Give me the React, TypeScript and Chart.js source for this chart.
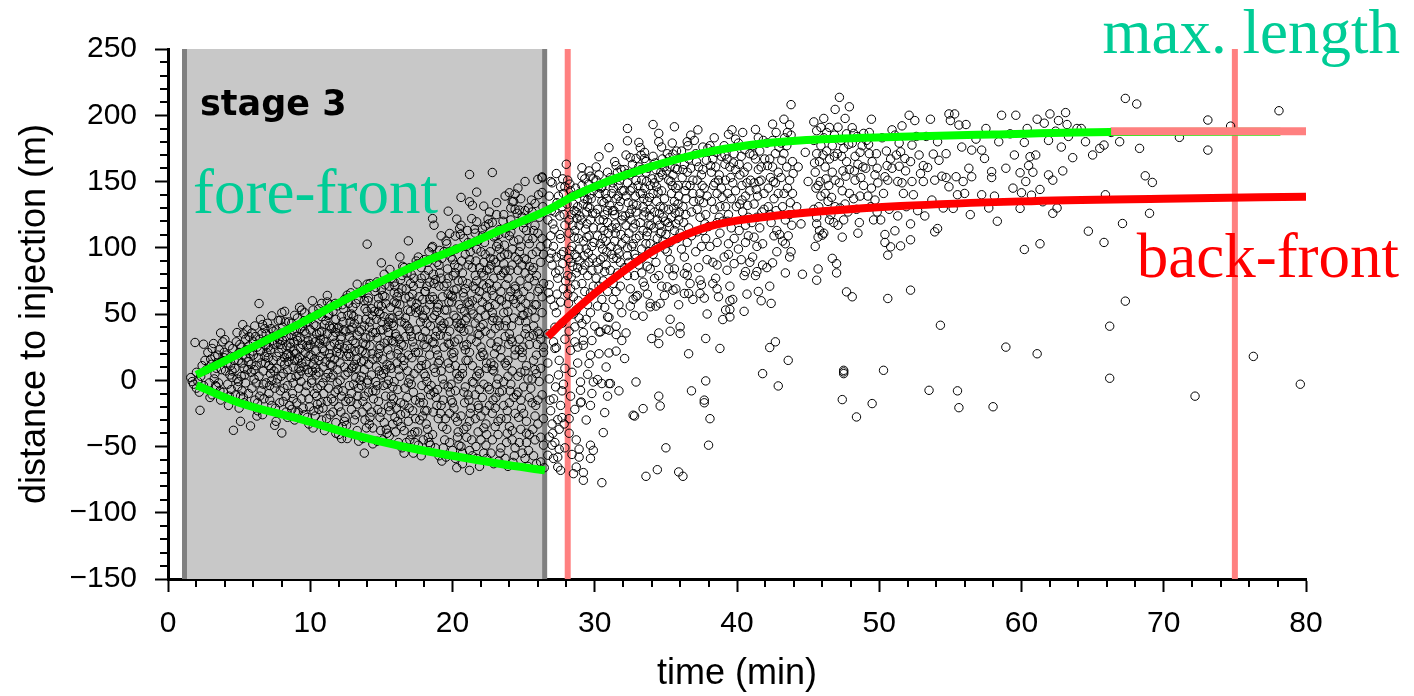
import React, { useEffect, useRef } from "react";
import { Chart, registerables } from "chart.js";

Chart.register(...registerables);

// ---------- data (time in min, distance in m) ----------
const stagePoints: [number, number][] = [
  [1.6,2],[1.8,-3],[2.0,6],[2.1,-1],[2.3,3],[2.2,-9],[1.9,28.5],[2.5,27.2],[2.25,-22.7],[2.4,11],[2.0,-6],[2.6,15],[2.5,-4],[1.7,-1],
  [2.7,8],[2.9,-2],[3.0,16],[3.1,-11],[3.2,27.7],[3.3,5],[2.8,21],[3.4,-5],[3.05,12],[3.25,1],[3.5,19],[2.95,-13],[3.4,9],[3.1,24],
  [3.7,35.7],[4.0,30.7],[3.6,23],[3.8,14],[4.05,7],[4.2,-3],[4.4,11],[3.9,-9],[4.1,19],[4.3,26],[4.5,2],[3.7,-15],[4.25,-19],[4.45,-7],[4.6,-37.8],[3.95,17],[4.35,4],
  [5.25,42],[5.1,-31],[4.8,29],[5.0,21],[5.2,13],[5.4,4],[4.9,-5],[5.3,-13],[5.15,25],[5.5,17],[4.7,9],[5.0,-21],[5.45,31],[5.2,-8],[4.85,1],[5.55,23],[5.3,35],[4.95,15],[5.35,9],
  [5.9,35.7],[6.6,35.2],[5.8,-34.5],[6.4,57.9],[5.7,26],[6.0,19],[6.2,11],[6.4,3],[5.9,-6],[6.1,-15],[6.3,-23],[6.0,29],[6.5,22],[5.65,14],[6.2,-2],[6.45,31],[5.85,6],[6.1,41],[6.3,-17],[6.55,13],[5.75,20],[6.25,25],[6.05,1],
  [7.3,48.6],[7.5,-34],[6.8,39],[7.0,31],[7.2,23],[7.4,15],[6.7,7],[6.9,-2],[7.1,-10],[7.3,-19],[6.65,-26],[7.0,43],[7.45,27],[6.8,18],[7.2,5],[7.5,-6],[6.9,35],[7.1,11],[7.3,0],[6.75,-14],[7.4,37],[7.05,17],[6.85,26],[7.25,9],[7.15,-4],
  [7.9,45.3],[8.5,44],[8.0,-39.8],[7.6,38],[7.8,31],[8.0,24],[8.2,17],[8.4,8],[7.7,1],[7.9,-8],[8.1,-16],[8.3,-24],[7.6,-31],[8.05,40],[8.3,33],[7.8,21],[8.2,12],[8.4,-4],[7.7,28],[8.1,5],[8.45,20],[7.95,14],[8.3,-12],[8.0,51],[7.65,9],[8.15,36],[8.35,26],[7.85,-17],
  [8.7,43],[8.9,37],[9.1,30],[9.3,24],[8.6,18],[8.8,10],[9.0,3],[9.2,-6],[9.4,-14],[8.7,-22],[8.9,-30],[9.1,47],[9.3,39],[8.6,28],[9.0,20],[9.4,13],[8.8,-2],[9.2,4],[9.5,-21],[8.9,49],[9.3,32],[9.1,16],[8.75,-10],[9.45,27],[8.65,34],[9.05,-17],[9.25,55],[8.85,22],[9.35,7],
  [9.6,51],[9.8,44],[10.0,38],[10.2,31],[10.4,22],[9.7,14],[9.9,6],[10.1,-2],[10.3,-10],[10.5,-18],[9.6,-26],[9.9,-33],[10.2,53],[10.4,41],[9.7,35],[10.0,27],[10.3,16],[9.8,8],[10.1,0],[10.5,-6],[9.65,21],[10.4,4],[9.9,-14],[10.2,12],[10.0,47],[10.35,29],[9.75,-4],[10.15,60],[9.85,25],[10.45,35],[9.55,10],[10.25,-23],
  [11.2,59.1],[10.6,54],[10.8,48],[11.0,42],[11.2,35],[11.4,26],[10.7,18],[10.9,10],[11.1,2],[11.3,-6],[11.5,-14],[10.6,-22],[10.8,-30],[11.0,-38],[11.3,50],[11.5,39],[10.7,31],[11.0,22],[11.4,12],[10.9,-2],[11.2,-16],[10.6,6],[11.1,45],[11.4,-26],[10.8,37],[11.05,14],[10.65,28],[11.35,20],[10.95,-10],[11.25,5],[10.75,-17],[11.45,57],
  [11.9,56.1],[12.4,61],[11.6,52],[11.8,46],[12.0,40],[12.2,33],[12.4,24],[11.7,16],[11.9,8],[12.1,0],[12.3,-8],[12.5,-16],[11.6,-24],[11.8,-32],[12.0,-41],[12.2,48],[12.5,37],[11.7,28],[12.1,20],[12.4,10],[11.9,-2],[12.2,-12],[11.6,4],[12.3,44],[12.0,-20],[11.8,36],[12.45,-28],[12.1,13],[11.65,40],[12.35,54],[11.95,24],[12.25,-35],[11.75,-9],[12.15,31],
  [12.6,64.2],[13.3,72.5],[12.7,58],[12.9,50],[13.1,43],[13.3,34],[12.6,26],[12.8,18],[13.0,10],[13.2,2],[13.4,-6],[12.7,-14],[12.9,-22],[13.1,-30],[13.3,-38],[12.6,-44],[13.0,55],[13.4,46],[12.8,38],[13.2,28],[12.7,20],[13.1,12],[13.5,0],[12.9,-10],[13.3,-18],[13.0,30],[12.65,6],[13.4,61],[13.2,-26],[12.8,44],[13.05,-3],[12.75,33],[13.45,23],[12.85,66],[13.25,16],[12.55,-34],
  [14.0,102.7],[14.0,72.5],[13.8,-55],[13.6,66],[13.8,60],[14.0,52],[14.2,44],[14.4,36],[13.7,28],[13.9,20],[14.1,12],[14.3,4],[13.6,-4],[13.8,-12],[14.0,-20],[14.2,-28],[14.4,-36],[13.7,-44],[14.1,62],[14.3,54],[13.9,46],[13.6,38],[14.2,26],[14.4,16],[13.8,8],[14.0,-2],[13.7,-16],[14.3,-24],[13.9,32],[14.1,70],[14.4,-8],[13.6,14],[14.15,40],[13.85,-30],[14.35,49],[13.65,22],[14.05,0],
  [14.7,74.2],[15.0,68.5],[15.0,88.6],[14.6,70],[14.8,62],[15.0,56],[15.2,48],[15.4,40],[14.7,32],[14.9,24],[15.1,16],[15.3,8],[15.5,0],[14.6,-8],[14.8,-16],[15.0,-24],[15.2,-32],[15.4,-40],[14.7,-46],[15.1,64],[15.3,58],[14.9,50],[15.5,44],[14.6,36],[15.2,28],[14.8,20],[15.4,12],[15.0,4],[14.7,-4],[15.3,-12],[14.9,-28],[15.1,38],[15.5,-20],[14.8,52],[15.25,72],[14.65,10],[15.15,-4],[15.45,30],[14.95,-38],
  [15.6,83.6],[16.3,93.1],[15.7,77],[15.95,71],[16.1,63],[16.3,57],[15.6,47],[15.85,41],[16.05,33],[16.2,23],[16.4,17],[15.7,9],[15.9,-1],[16.15,-7],[16.35,-17],[15.6,-23],[15.8,-33],[16.0,-39],[16.2,-47],[16.45,-51],[15.9,59],[16.25,49],[15.75,43],[16.0,35],[16.4,27],[15.65,19],[16.1,13],[16.3,3],[15.8,-5],[16.05,-21],[16.4,-35],[15.9,74],[16.2,66],[15.7,-12],[16.45,79],[15.55,-42],[16.15,52],[15.85,29],[16.35,-26],
  [16.9,105.2],[16.6,85],[16.8,81],[17.05,73],[17.2,65],[17.4,55],[16.7,47],[16.95,39],[17.1,33],[17.3,25],[16.6,15],[16.85,7],[17.0,1],[17.25,-9],[17.4,-15],[16.7,-25],[16.9,-31],[17.15,-41],[17.35,-47],[16.6,-55],[17.0,85],[17.3,77],[16.75,69],[17.1,59],[17.45,51],[16.65,43],[17.0,37],[17.2,29],[16.9,19],[16.55,11],[17.3,5],[17.1,-3],[16.8,-13],[17.4,-29],[17.0,-45],[16.7,62],[17.45,90],[16.95,-21],[17.25,-55],[16.6,-38],
  [17.6,93],[17.8,85],[18.05,79],[18.2,71],[18.4,61],[17.7,53],[17.95,47],[18.1,37],[18.3,31],[17.6,21],[17.85,15],[18.0,5],[18.2,-1],[18.45,-11],[17.7,-17],[17.9,-27],[18.15,-33],[18.3,-43],[17.6,-49],[17.8,-57],[18.0,91],[18.3,83],[17.7,73],[18.1,67],[18.4,57],[17.9,49],[18.2,43],[17.65,33],[18.0,27],[18.4,19],[17.8,11],[18.1,3],[18.3,-7],[17.75,-13],[18.05,-23],[18.25,-37],[18.45,-49],[17.9,61],[18.35,97],[17.55,-39],[18.15,12],[17.95,-45],
  [18.6,122],[18.7,117],[18.6,101],[18.8,93],[19.05,87],[19.2,77],[19.4,71],[18.7,61],[18.95,55],[19.1,45],[19.3,39],[18.6,29],[18.85,23],[19.0,13],[19.2,7],[19.4,-3],[18.7,-9],[18.9,-19],[19.15,-25],[19.3,-35],[18.6,-41],[18.8,-51],[19.05,-57],[19.25,-61],[19.4,97],[18.9,89],[19.1,81],[18.7,73],[19.3,63],[19.0,57],[18.6,47],[19.2,41],[18.8,33],[19.4,25],[19.1,15],[18.7,9],[19.3,1],[18.95,-7],[19.0,-29],[19.45,-45],[18.8,76],[19.2,109],[18.65,-24],[19.35,-15],[18.9,52],
  [19.7,127.6],[20.3,121.6],[20.5,114.6],[20.2,108.8],[19.8,110.8],[20.3,-66],[19.6,103],[19.85,97],[20.0,91],[20.2,81],[20.4,75],[19.7,65],[19.95,59],[20.1,49],[20.3,43],[19.6,33],[19.8,27],[20.05,17],[20.2,11],[20.4,1],[19.7,-5],[19.9,-15],[20.1,-21],[20.35,-31],[19.6,-37],[19.8,-47],[20.0,-53],[20.2,-59],[20.45,-49],[19.9,93],[20.15,87],[19.7,77],[20.3,69],[20.0,63],[19.6,53],[20.25,47],[19.8,37],[20.4,31],[20.1,21],[19.7,13],[20.3,5],[19.9,-3],[20.0,-17],[20.4,-39],[19.8,-25],[20.45,57],[19.55,-58],[20.2,-8],[19.75,44],
  [20.6,138],[21.2,134.7],[21.4,132],[21.2,155.3],[21.2,-68],[20.6,117],[20.8,107],[21.0,101],[21.2,91],[21.4,85],[20.7,75],[20.9,69],[21.1,59],[21.3,53],[20.6,43],[20.8,37],[21.0,27],[21.2,21],[21.4,11],[20.7,5],[20.9,-5],[21.1,-11],[21.3,-21],[20.6,-27],[20.8,-37],[21.0,-43],[21.2,-53],[21.4,-57],[20.7,-63],[21.05,113],[21.3,103],[20.9,95],[21.1,87],[20.7,81],[21.45,71],[20.8,63],[21.2,57],[21.0,47],[20.6,39],[21.3,31],[20.9,23],[21.1,15],[20.7,9],[21.4,-1],[20.8,-9],[21.25,-25],[21.0,-35],[20.6,-50],[21.35,122],[20.85,52],[21.15,-15],
  [21.7,142],[22.2,131.4],[21.7,119.6],[22.5,121.6],[22.3,116.3],[21.6,111],[21.8,105],[22.0,97],[22.2,89],[22.4,83],[21.7,75],[21.9,67],[22.1,59],[22.3,49],[21.6,43],[21.8,35],[22.0,25],[22.2,19],[22.4,9],[21.7,3],[21.9,-7],[22.1,-13],[22.3,-23],[21.6,-29],[21.8,-39],[22.0,-45],[22.2,-55],[22.4,-59],[21.9,-65],[22.1,109],[21.7,99],[22.3,95],[21.9,85],[22.2,79],[21.6,69],[22.4,63],[22.0,53],[21.8,47],[22.3,37],[21.7,29],[22.1,21],[22.4,13],[21.9,5],[22.2,-3],[21.6,-11],[22.0,-27],[22.4,-41],[21.8,-19],[22.15,72],[21.65,-50],[22.35,-33],[21.95,40],
  [22.8,156.8],[22.9,108.2],[23.3,113.7],[22.6,127],[22.8,119],[23.0,109],[23.2,103],[23.4,93],[22.7,87],[22.9,77],[23.1,71],[23.3,61],[22.6,55],[22.8,45],[23.0,39],[23.2,29],[23.4,23],[22.7,13],[22.9,7],[23.1,-3],[23.3,-9],[22.6,-19],[22.8,-25],[23.0,-35],[23.2,-41],[23.4,-51],[22.7,-55],[22.9,-63],[23.1,125],[23.3,99],[22.9,91],[23.2,83],[22.6,73],[23.4,67],[23.0,57],[22.8,51],[23.3,41],[22.7,35],[23.1,25],[23.4,17],[22.9,11],[23.2,1],[22.6,-7],[23.0,-21],[23.4,-29],[22.8,-45],[23.1,134],[23.25,-61],[22.65,97],[23.05,-13],[22.85,64],
  [24.0,141.5],[24.3,135],[24.1,130],[24.4,140.5],[24.2,134.7],[23.7,139],[24.4,129],[23.6,125],[23.8,115],[24.0,109],[24.2,99],[24.4,93],[23.7,83],[23.9,77],[24.1,67],[24.3,61],[23.6,51],[23.8,45],[24.0,35],[24.2,29],[24.4,19],[23.7,13],[23.9,3],[24.1,-3],[24.3,-13],[23.6,-19],[23.8,-29],[24.0,-35],[24.2,-45],[24.4,-51],[23.7,-59],[23.9,-65],[24.1,121],[23.7,111],[24.3,105],[23.9,95],[24.2,87],[23.6,81],[24.4,71],[24.0,63],[23.8,57],[24.3,47],[23.7,41],[24.1,31],[24.4,23],[23.9,15],[24.2,7],[23.6,-1],[24.0,-17],[24.4,-25],[23.8,-47],[24.25,-62],[23.65,102],[24.05,-8],[23.85,-40],
  [24.7,128.4],[24.9,123.3],[24.6,145],[24.8,137],[25.0,119],[25.2,113],[25.4,103],[24.7,97],[24.9,87],[25.1,81],[25.3,71],[24.6,65],[24.8,55],[25.0,49],[25.2,39],[25.4,33],[24.7,23],[24.9,17],[25.1,7],[25.3,1],[24.6,-9],[24.8,-15],[25.0,-25],[25.2,-31],[25.4,-41],[24.7,-47],[24.9,-55],[25.1,-59],[25.3,-65],[25.0,115],[25.3,107],[24.8,101],[25.2,91],[24.6,83],[25.4,77],[25.0,67],[24.8,61],[25.3,51],[24.7,45],[25.1,35],[25.4,27],[24.9,21],[25.2,11],[24.6,3],[25.0,-5],[25.4,-13],[24.8,-37],[25.2,-47],[25.1,150],[25.35,130],[24.65,-28],[25.15,58],
  [25.8,133.4],[26.3,141.7],[26.0,151.6],[26.3,152.8],[26.3,153.5],[26.2,-61.7],[25.6,127],[25.8,117],[26.0,111],[26.2,101],[26.4,95],[25.7,85],[25.9,79],[26.1,69],[26.3,63],[25.6,53],[25.8,47],[26.0,37],[26.2,31],[26.4,21],[25.7,15],[25.9,5],[26.1,-1],[26.3,-11],[25.6,-17],[25.8,-27],[26.0,-33],[26.2,-43],[26.4,-49],[25.7,-57],[25.9,-63],[26.1,123],[25.7,113],[26.3,107],[25.9,97],[26.2,89],[25.6,83],[26.4,73],[26.0,67],[25.8,57],[26.3,51],[25.7,41],[26.1,35],[26.4,25],[25.9,19],[26.2,9],[25.6,1],[26.0,-15],[26.4,-29],[25.8,-45],[26.35,131],[25.65,-37],[26.05,140],[26.45,-66],
];

const stageDensePoints: [number, number][] = [
  [3.3,18],[3.55,-2],[3.75,8],[3.85,29],[3.45,13],[3.65,-8],[3.95,21],[3.35,-4],
  [4.15,13],[4.55,24],[4.75,-11],[4.65,15],[4.3,-12],[4.85,36],[4.5,7],[4.95,-1],
  [5.05,27],[5.6,8],[5.25,19],[5.45,-2],[5.7,33],[5.35,-17],[5.85,12],[5.15,3],[5.65,-10],[5.55,38],[5.95,22],[5.1,-12],
  [6.15,33],[6.35,17],[6.55,-8],[6.75,29],[6.05,8],[6.45,-12],[6.65,42],[6.85,13],[6.25,-27],[6.95,21],[6.7,-3],[6.5,46],
  [7.05,25],[7.25,39],[7.45,7],[7.65,18],[7.85,35],[7.15,-15],[7.35,30],[7.55,-21],[7.75,45],[7.95,3],[7.6,-2],[7.9,27],
  [8.05,30],[8.25,44],[8.45,14],[8.65,2],[8.85,29],[8.15,-6],[8.35,19],[8.55,-19],[8.75,38],[8.95,-24],[8.2,52],[8.6,25],[8.8,-14],[8.4,-28],[8.9,15],
  [9.05,33],[9.25,17],[9.45,41],[9.65,-9],[9.85,30],[9.15,-24],[9.35,-1],[9.55,45],[9.75,26],[9.95,-20],[9.2,9],[9.6,37],[9.8,-28],[9.4,53],[9.9,18],
  [10.05,19],[10.25,42],[10.45,-12],[10.65,36],[10.85,24],[10.15,7],[10.35,-27],[10.55,50],[10.75,-4],[10.95,31],[10.2,-36],[10.6,15],[10.8,58],[10.4,9],[10.9,-21],
  [11.05,29],[11.25,49],[11.45,2],[11.65,-16],[11.85,21],[11.15,-29],[11.35,41],[11.55,11],[11.75,58],[11.95,-7],[11.2,64],[11.6,33],[11.8,-40],[11.4,17],[11.9,39],
  [12.05,27],[12.25,57],[12.45,4],[12.65,49],[12.85,-16],[12.15,-24],[12.35,38],[12.55,18],[12.75,-4],[12.95,40],[12.2,-44],[12.6,62],[12.8,24],[12.4,-31],[12.9,9],
  [13.05,48],[13.25,9],[13.45,37],[13.65,-24],[13.85,54],[13.15,22],[13.35,-12],[13.55,66],[13.75,15],[13.95,-36],[13.2,58],[13.6,3],[13.8,41],[13.4,-46],[13.9,27],
  [14.05,60],[14.25,33],[14.45,-14],[14.65,46],[14.85,7],[14.15,-33],[14.35,20],[14.55,67],[14.75,-22],[14.95,38],[14.2,73],[14.6,-1],[14.8,57],[14.4,-48],[14.9,26],[14.5,52],[14.1,-9],[14.7,17],
  [15.05,44],[15.25,63],[15.45,23],[15.65,55],[15.85,-14],[15.15,5],[15.35,-37],[15.55,71],[15.75,30],[15.95,-28],[15.2,80],[15.6,11],[15.8,47],[15.4,-3],[15.9,66],[15.5,36],[15.1,-45],[15.7,-18],
  [16.05,58],[16.25,31],[16.45,69],[16.65,-6],[16.85,53],[16.15,-31],[16.35,76],[16.55,26],[16.75,-47],[16.95,63],[16.2,8],[16.6,-18],[16.8,41],[16.4,44],[16.9,-2],[16.5,86],[16.1,20],[16.7,33],
  [17.05,52],[17.25,71],[17.45,38],[17.65,63],[17.85,-4],[17.15,17],[17.35,-39],[17.55,88],[17.75,44],[17.95,-17],[17.2,-23],[17.6,9],[17.8,77],[17.4,21],[17.9,32],[17.5,58],[17.1,80],[17.7,-30],
  [18.05,67],[18.25,89],[18.45,41],[18.65,80],[18.85,-13],[18.15,25],[18.35,-47],[18.55,100],[18.75,49],[18.95,19],[18.2,-23],[18.6,63],[18.8,6],[18.4,74],[18.9,37],[18.5,-4],[18.1,53],[18.7,28],
  [19.05,71],[19.25,92],[19.45,53],[19.65,84],[19.85,-9],[19.15,34],[19.35,-51],[19.55,105],[19.75,59],[19.95,20],[19.2,-19],[19.6,73],[19.8,9],[19.4,43],[19.9,64],[19.5,-29],[19.1,98],[19.7,28],
  [20.05,79],[20.25,99],[20.45,40],[20.65,90],[20.85,-17],[20.15,29],[20.35,-43],[20.55,110],[20.75,66],[20.95,15],[20.2,-28],[20.6,54],[20.8,26],[20.4,85],[20.9,45],[20.5,3],[20.1,68],[20.7,-55],
  [21.05,73],[21.25,97],[21.45,50],[21.65,90],[21.85,-21],[21.15,38],[21.35,-45],[21.55,114],[21.75,62],[21.95,18],[21.2,-31],[21.6,79],[21.8,7],[21.4,60],[21.9,34],[21.5,-2],[21.1,104],[21.7,-59],
  [22.05,81],[22.25,104],[22.45,56],[22.65,92],[22.85,-15],[22.15,42],[22.35,-49],[22.55,118],[22.75,68],[22.95,20],[22.2,-36],[22.6,84],[22.8,8],[22.4,70],[22.9,47],[22.5,-5],[22.1,114],[22.7,28],
  [23.05,89],[23.25,110],[23.45,60],[23.65,95],[23.85,-23],[23.15,45],[23.35,-55],[23.55,120],[23.75,72],[23.95,27],[23.2,-31],[23.6,88],[23.8,11],[23.4,79],[23.9,52],[23.5,-8],[23.1,101],[23.7,33],
  [24.05,83],[24.25,117],[24.45,58],[24.65,106],[24.85,-21],[24.15,41],[24.35,-57],[24.55,126],[24.75,75],[24.95,25],[24.2,-38],[24.6,91],[24.8,6],[24.4,69],[24.9,49],[24.5,-11],[24.1,112],[24.7,31],
  [25.05,92],[25.25,121],[25.45,63],[25.65,107],[25.85,-19],[25.15,44],[25.35,-53],[25.55,136],[25.75,75],[25.95,27],[25.2,-40],[25.6,95],[25.8,8],[25.4,86],[25.9,57],[25.5,-6],[25.1,128],[25.7,34],
];

const risePoints: [number, number][] = [
  [27.0,149],[27.6,146],[27.9,146],[28.0,163],[27.3,24.7],[27.7,-8],[27.1,-14],[27.4,-29.7],[27.7,-28.2],[26.8,-42.8],[27.2,-47],[26.7,-56.6],[27.1,-59],[27.4,-58],[27.4,-65.5],[28.2,-29],[28.2,-40],[28.3,22.6],[27.2,24],
  [26.7,121],[26.9,109],[27.1,101],[27.3,93],[27.5,83],[27.7,131],[27.9,117],[26.8,139],[27.2,127],[27.6,107],[27.8,97],[27.0,87],[27.4,77],[27.8,69],[26.9,61],[27.3,51],[27.7,43],[26.7,35],[27.1,29],[27.5,15],[27.9,9],[26.8,1],[27.25,-5],[27.6,-19],[26.9,-23],[27.5,-37],[27.9,-51],[27.0,-33],[27.8,141],[27.3,156],[26.8,72],[27.6,59],[27.2,40],[27.9,31],[26.7,13],[27.45,4],[27.8,-3],[27.0,-49],[27.6,-68],[26.9,150],[27.15,114],[27.55,124],[27.35,134],[27.75,88],[26.95,96],
  [28.5,-70.5],[28.7,-65.5],[28.9,-58],[28.7,-45],[28.9,-52],[28.8,25],[29.0,-1.3],[29.0,-7.6],[29.0,-17],[29.2,26.4],[29.2,-75.5],[29.2,-69.7],[29.1,160.4],[28.6,40.3],[29.1,42.8],[29.2,30.2],
  [28.1,151],[28.3,143],[28.5,133],[28.7,127],[28.9,117],[28.2,111],[28.4,101],[28.6,95],[28.8,85],[28.1,79],[28.3,69],[28.5,63],[28.7,53],[28.9,47],[28.2,37],[28.6,29],[28.8,13],[28.4,6],[28.3,-12],[28.6,-22],[28.4,139],[28.8,131],[28.2,121],[28.6,113],[28.9,99],[28.3,89],[28.7,81],[28.1,65],[28.5,50],[28.9,141],[28.4,-56],[28.55,108],[28.75,122],[28.15,92],[28.95,90],[28.35,125],
  [29.6,12.6],[29.7,19],[29.5,4.5],[29.7,-19],[29.7,-59],[29.7,-49],[29.9,-52.9],[30.0,40.8],[29.6,158],[29.7,154],[29.1,154],[29.9,-1.3],[29.05,-16.4],
  [29.1,147],[29.3,137],[29.5,131],[29.7,121],[29.9,115],[29.2,105],[29.4,99],[29.6,89],[29.8,83],[29.1,73],[29.3,67],[29.5,57],[29.7,51],[29.9,143],[29.2,133],[29.4,127],[29.6,109],[29.8,101],[29.3,87],[29.5,79],[29.9,71],[29.4,46],[29.8,30],[29.2,36],[29.4,-30],[29.8,-10],[29.45,118],[29.65,140],[29.25,94],[29.85,126],[29.55,148],
  [30.4,36.5],[30.8,38.5],[30.3,168.7],[30.5,-77.3],[30.6,-39.5],[30.7,-24.4],[30.9,-12],[30.5,-2.5],[30.2,0.5],[31.0,-2.5],[31.0,20.6],[31.0,47.4],[31.0,175.5],[30.9,47.8],[30.3,36.5],[31.0,37.8],
  [30.1,151],[30.3,141],[30.5,135],[30.7,125],[30.9,119],[30.2,109],[30.4,103],[30.6,93],[30.8,87],[30.1,77],[30.3,71],[30.5,61],[30.7,55],[30.9,157],[30.2,129],[30.6,121],[30.8,105],[30.4,91],[30.1,161],[30.6,75],[30.9,67],[30.3,20],[30.8,10],[30.2,56],[30.45,145],[30.65,113],[30.25,84],[30.85,137],[30.55,99],
  [31.5,34.5],[31.5,40.8],[31.5,22],[31.7,-8],[31.1,-2.5],
  [31.1,153],[31.3,145],[31.5,137],[31.7,131],[31.9,121],[31.2,115],[31.4,105],[31.6,99],[31.8,89],[31.1,83],[31.3,73],[31.5,67],[31.7,57],[31.9,51],[31.2,141],[31.6,157],[31.8,135],[31.4,125],[31.2,95],[31.6,81],[31.9,103],[31.3,61],[31.8,71],[31.4,165],[31.9,30],[31.45,111],[31.65,147],[31.25,128],[31.85,159],[31.55,92],
  [32.1,16.4],[32.2,35.7],[32.3,190],[32.3,180.7],[32.2,170],[32.9,167.4],[32.8,49],[32.9,-1.3],[32.8,-27],[32.9,63],[32.7,-26.4],
  [32.1,159],[32.3,149],[32.5,143],[32.7,133],[32.9,127],[32.2,117],[32.4,111],[32.6,101],[32.8,95],[32.1,85],[32.3,79],[32.5,69],[32.7,61],[32.9,151],[32.2,139],[32.6,129],[32.4,89],[32.8,79],[32.5,56],[32.7,115],[32.3,100],[32.9,107],[32.45,155],[32.65,163],[32.15,124],[32.85,139],
  [33.1,179.5],[33.2,175.5],[33.5,167.4],[33.4,48.3],[33.9,55.4],[33.4,-21.4],[33.6,-72.5],[34.0,31.5],[33.9,58],[33.4,74],
  [33.1,161],[33.3,151],[33.5,145],[33.7,135],[33.9,129],[33.2,119],[33.4,113],[33.6,103],[33.8,97],[33.1,87],[33.3,81],[33.5,71],[33.7,65],[33.9,147],[33.2,141],[33.6,157],[33.8,117],[33.4,131],[33.9,84],[33.3,99],[33.7,86],[33.6,165],[33.0,64],[33.45,124],[33.65,109],[33.25,170],[33.85,138],
  [34.1,193],[34.5,186.3],[34.5,27.7],[34.5,35.7],[34.5,-12],[34.6,-19.4],[34.4,-67.5],[35.0,-51],[34.6,58],[34.2,76.8],
  [34.1,169],[34.3,159],[34.5,153],[34.7,143],[34.9,137],[34.2,127],[34.4,121],[34.6,111],[34.8,105],[34.1,95],[34.3,89],[34.5,79],[34.7,71],[34.9,161],[34.2,149],[34.6,131],[34.8,123],[34.4,107],[34.9,64],[34.3,56],[34.7,176],[34.1,141],[34.55,117],[34.75,155],[34.35,135],[34.95,99],
  [35.3,37],[35.5,170.7],[35.6,191.3],[35.9,-69.2],[36.2,-72.5],[35.1,70.5],[35.5,68],[35.2,84],[35.6,84],
  [35.1,171],[35.3,161],[35.5,155],[35.7,145],[35.9,139],[35.2,129],[35.4,123],[35.6,113],[35.8,107],[35.1,97],[35.3,91],[35.5,79],[35.7,69],[35.9,57],[35.2,151],[35.6,135],[35.8,159],[35.4,141],[35.0,110],[35.9,121],[35.3,46],[35.45,179],[35.65,126],[35.25,116],[35.85,147],
];

const riseDensePoints: [number, number][] = [
  [26.65,103],[26.85,92],[27.05,118],[27.25,81],[27.45,139],[27.65,95],[27.85,125],[26.75,66],[27.15,56],[27.55,110],[27.95,75],[26.95,128],[27.35,65],[27.75,152],[27.05,-40],[27.5,-52],[26.85,-15],[27.85,-33],
  [28.05,133],[28.25,98],[28.45,117],[28.65,145],[28.85,107],[28.15,58],[28.35,78],[28.55,128],[28.75,93],[28.95,124],[28.25,148],[28.65,72],[28.85,60],[28.45,86],
  [29.05,121],[29.25,142],[29.45,108],[29.65,130],[29.85,92],[29.15,83],[29.35,114],[29.55,96],[29.75,137],[29.95,104],[29.3,152],[29.7,66],[29.5,136],[29.9,152],
  [30.05,126],[30.25,146],[30.45,115],[30.65,134],[30.85,97],[30.15,89],[30.35,121],[30.55,107],[30.75,141],[30.95,111],[30.3,155],[30.7,82],[30.5,146],[30.9,128],
  [31.05,132],[31.25,149],[31.45,118],[31.65,139],[31.85,110],[31.15,101],[31.35,128],[31.55,115],[31.75,151],[31.95,124],[31.3,92],[31.7,96],[31.5,162],[31.9,143],
  [32.05,143],[32.25,156],[32.45,126],[32.65,145],[32.85,118],[32.15,107],[32.35,134],[32.55,121],[32.75,157],[32.95,132],[32.3,94],[32.7,103],[32.5,168],[32.9,92],
  [33.05,147],[33.25,159],[33.45,137],[33.65,150],[33.85,124],[33.15,109],[33.35,141],[33.55,127],[33.75,160],[33.95,117],[33.3,92],[33.7,112],[33.5,172],[33.9,103],
  [34.05,152],[34.25,164],[34.45,142],[34.65,157],[34.85,130],[34.15,115],[34.35,146],[34.55,126],[34.75,167],[34.95,120],[34.3,100],[34.7,112],[34.5,180],
  [35.05,158],[35.25,168],[35.45,147],[35.65,160],[35.85,133],[35.15,119],[35.35,150],[35.55,130],[35.75,173],[35.95,127],[35.3,104],[35.7,118],
];

const plateauPoints: [number, number][] = [
  [36.0,40.3],[36.0,35.3],[36.5,180],[36.3,80.6],[36.5,79.3],[36.3,65.5],[36.6,65.5],
  [36.1,173],[36.3,163],[36.5,157],[36.7,147],[36.9,141],[36.2,131],[36.4,125],[36.6,115],[36.8,109],[36.1,99],[36.3,93],[36.5,85],[36.7,73],[36.9,61],[36.2,159],[36.6,167],[36.8,127],[36.4,137],[36.9,151],[36.0,111],[36.6,20],[36.8,-8],[36.45,147],[36.75,185],[36.25,119],
  [37.6,176],[37.8,31.5],[37.8,-0.5],[37.7,-15],[37.7,-17],[37.4,75.5],[37.4,65.5],[38.0,-49],
  [37.1,171],[37.3,161],[37.5,155],[37.7,145],[37.9,139],[37.2,129],[37.4,123],[37.6,113],[37.8,107],[37.1,97],[37.3,85],[37.5,72],[37.7,62],[37.9,50],[37.2,151],[37.6,159],[37.4,141],[37.8,125],[37.0,181],[37.5,101],[37.9,91],[37.25,189],[37.65,134],[37.85,166],
  [38.1,-29],[38.8,24],[39.0,45.8],[38.6,87],[38.6,69],[38.3,73],
  [38.1,177],[38.3,167],[38.5,161],[38.7,151],[38.9,145],[38.2,135],[38.4,129],[38.6,119],[38.8,111],[38.1,101],[38.3,89],[38.5,77],[38.7,63],[38.9,169],[38.2,157],[38.6,141],[38.4,183],[38.8,131],[38.0,116],[38.45,149],[38.75,123],[38.25,173],
  [39.4,185.6],[39.9,182],[39.5,47.8],[39.5,53.4],[39.8,88],[39.5,60],[39.2,53],
  [39.1,177],[39.3,167],[39.5,161],[39.7,149],[39.9,143],[39.2,131],[39.4,125],[39.6,115],[39.8,107],[39.1,93],[39.3,83],[39.5,71],[39.7,61],[39.9,159],[39.2,151],[39.6,137],[39.8,171],[39.4,103],[39.0,120],[39.35,141],[39.65,189],[39.15,163],
  [40.6,82],
  [40.1,179],[40.3,169],[40.5,157],[40.7,149],[40.9,143],[40.2,133],[40.4,127],[40.6,117],[40.8,109],[40.1,99],[40.3,91],[40.5,79],[40.7,65],[40.9,171],[40.2,155],[40.6,139],[40.4,187],[40.8,123],[40.5,52],[40.9,89],[40.35,147],[40.75,161],[40.15,113],
  [41.3,189.3],[41.5,183],[41.8,5],[41.4,82],[41.7,60],
  [41.1,177],[41.3,167],[41.5,159],[41.7,151],[41.9,141],[41.2,133],[41.4,123],[41.6,115],[41.8,103],[41.1,93],[41.3,79],[41.5,67],[41.7,161],[41.9,129],[41.2,149],[41.6,173],[41.4,101],[41.8,87],[41.45,139],[41.85,181],[41.05,119],
  [42.3,24.7],[42.7,29],[42.9,-4.3],[42.5,193.3],[42.5,88.6],[43.0,110],
  [42.1,179],[42.3,167],[42.5,161],[42.7,149],[42.9,141],[42.2,131],[42.4,119],[42.6,109],[42.8,97],[42.1,85],[42.3,71],[42.5,181],[42.7,171],[42.9,157],[42.2,145],[42.6,137],[42.4,58],[42.8,113],[42.35,153],[42.75,187],
  [43.3,197],[43.7,192.8],[43.8,208],[43.8,185],[43.6,15],[43.4,81],[43.4,103],[43.7,93],
  [43.1,179],[43.3,171],[43.5,161],[43.7,151],[43.9,141],[43.2,131],[43.4,121],[43.6,109],[43.8,97],[43.1,153],[43.5,177],[43.9,165],[43.3,141],[43.7,125],[43.2,105],[43.55,187],[43.85,117],
  [44.2,131],[44.5,118],[44.3,161],[44.6,80],[44.8,172],[45.0,150],
  [45.6,188.3],[45.9,190.8],[46.1,197.6],[45.6,75.5],[45.7,108],[46.0,109.5],[45.6,118],
  [45.4,181],[45.6,171],[45.8,165],[45.5,157],[45.7,147],[45.9,139],[45.4,129],[45.6,123],[45.8,113],[45.5,101],[45.9,177],[45.7,84],[45.4,195],[45.75,131],[45.55,145],
  [46.5,190.8],[46.9,204.4],[46.7,92],[47.0,88],[47.0,81],
  [46.1,183],[46.3,173],[46.5,167],[46.7,157],[46.9,151],[46.2,141],[46.4,135],[46.6,125],[46.8,119],[46.1,111],[46.3,187],[46.7,177],[46.5,121],[46.9,131],[46.2,161],[46.45,147],[46.85,169],
  [47.2,213.5],[47.6,197.6],[47.9,206.4],[47.5,6.3],[47.5,5],[47.4,-14.6],[47.4,108],[47.7,66.7],[48.1,63],[47.5,7.5],
  [47.1,191],[47.3,181],[47.5,175],[47.7,165],[47.9,159],[47.2,149],[47.4,143],[47.6,133],[47.8,127],[47.1,117],[47.7,186],[47.5,121],[47.9,141],[47.35,169],[47.65,154],
  [48.1,190.6],[48.9,186.3],[48.2,186.3],[48.4,-27.7],
  [48.1,179],[48.3,169],[48.5,163],[48.7,153],[48.9,147],[48.2,137],[48.4,129],[48.6,119],[48.8,177],[48.5,111],[48.3,151],[48.65,139],[48.85,161],
  [49.5,-17.6],
  [49.1,181],[49.3,171],[49.5,165],[49.7,155],[49.9,149],[49.2,139],[49.4,131],[49.6,121],[49.8,171],[49.3,187],[49.7,136],[49.45,197],[49.85,127],
  [50.3,7.5],[50.6,61.7],[50.8,100.7],[50.6,94.4],[50.4,110],[50.4,104],[50.9,160],[50.4,153.6],[50.6,151],
  [50.2,183],[50.5,173],[50.8,167],[50.3,141],[50.7,129],[50.1,121],[50.9,189],[50.55,162],
  [51.1,112.8],[51.5,101.4],[51.5,172.4],[51.8,167.4],[51.2,170],[51.4,161.5],[51.3,150],[51.6,149],
  [51.1,185],[51.4,179],[51.7,141],[51.9,131],[51.3,124],[51.6,192],[51.85,158],
  [52.1,200],[52.5,196],[52.2,118],[52.2,106],[52.2,68],[52.3,177.5],[52.2,165],[52.3,150],
  [52.6,184],[52.8,170],[52.4,140],[52.7,128],[52.9,156],
  [53.6,197],[53.1,162],[53.4,160.6],[53.1,150],[53.8,170.7],[53.5,-7.6],[53.9,151],
  [53.3,184],[53.7,136],[53.2,124],[53.9,112],
  [54.2,166],[54.7,171],[54.3,41.5],[54.1,114.5],[54.4,154],[54.7,153],[54.9,146],[54.9,201],[54.1,180],[54.5,130],
  [55.0,196],[55.3,201],[55.6,192.6],[55.8,176],[55.4,153.6],[55.9,150],[55.2,129.7],[55.6,-20.7],[55.5,-8],[55.5,140],
  [56.0,141],[56.1,193],[56.5,173.7],[57.2,173.7],[56.5,153.6],[56.4,125],[56.8,182],[56.3,160],
  [57.4,167.4],[57.9,157.4],[57.9,153],[58.0,-20],[57.5,190],[57.2,140],[57.7,130],
  [58.4,180],[58.1,139],[58.9,25],[58.6,200],[58.9,160],[58.3,120],
  [59.6,200],[59.9,156.6],[59.9,129.7],[59.5,170],[59.2,186],[59.4,145],
  [60.2,179.5],[60.6,168.7],[60.5,162],[60.8,157],[60.3,150],[60.0,141.5],[60.7,139.7],[60.2,98.7],[60.4,190],
  [61.1,197],[61.9,181],[61.9,155],[61.3,144],[61.5,134.7],[61.3,103],[61.1,20],[61.6,194],[61.0,170],
  [62.0,201],[62.2,151],[62.9,158],[62.5,130],[62.2,126],[62.6,196],[62.8,176],[62.4,188],
  [63.1,202],[63.2,193],[63.3,184],[63.6,168],[63.9,190],
  [64.7,112.5],[64.2,190],[65.0,170],[65.5,175],[65.8,177.5],[65.8,104],[65.9,140],[64.5,180],
  [66.2,40.8],[66.2,1.5],[66.9,180],[66.3,187],[67.3,212.7],[67.3,59.7],[67.1,118.3],[68.1,208.5],[68.3,175],[68.7,154.3],
  [69.2,149.3],[69.0,126],[71.1,183.3],[72.2,-12],[73.1,196.4],[73.1,173.7],[74.7,191.8],[76.3,18],[78.1,203.4],[79.6,-3],
];

const plateauDensePoints: [number, number][] = [
  [36.15,153],[36.55,177],[36.95,135],[36.35,143],[36.75,160],[37.15,165],[37.55,147],[37.95,175],[37.35,136],[37.75,118],[36.5,104],[37.2,112],
  [38.15,162],[38.55,172],[38.95,138],[38.35,147],[38.75,155],[39.15,170],[39.55,153],[39.95,131],[39.35,120],[39.75,164],[38.6,104],[39.4,95],
  [40.15,163],[40.55,174],[40.95,151],[40.35,136],[40.75,132],[41.15,170],[41.55,150],[41.95,167],[41.35,144],[41.75,127],[40.6,104],[41.2,108],
  [42.15,162],[42.55,150],[42.95,176],[42.35,125],[42.75,128],[43.15,166],[43.55,145],[43.95,156],[43.35,183],[43.75,134],
  [45.45,164],[45.85,150],[46.25,152],[46.65,138],[47.05,171],[47.45,158],[47.85,178],[46.05,170],[46.85,185],[47.25,130],
  [48.25,158],[48.65,172],[49.05,160],[49.45,145],[49.85,160],[48.45,184],[49.25,178],
];

const foreFrontUpper: [number, number][] = [
  [2,4],[5,20],[9.3,43],[14.2,70.5],[17.7,88],[21.2,103],[23.3,113],[26.6,128],[28.5,139],[30.4,148],[33.9,161],
  [37.4,171],[40.9,177.5],[44.4,181],[51.5,183.8],[58,185.5],[66.2,187.3],[78.2,187.6],
];
const foreFrontLower: [number, number][] = [
  [2,-3.8],[5,-17],[9.5,-30],[13,-41],[16.5,-50],[20,-57],[23.3,-63],[26.5,-68],
];
const backFront: [number, number][] = [
  [26.7,33],[28,46.5],[29.5,61],[31,74],[32.5,86],[34,97],[36,108],[38,116],[40,120.5],[43,124.5],[46,127.5],[51.5,131.5],[60,135],[70,137],[80,138.5],
];
const maxLength: [number, number][] = [[66.3,188],[80,188]];

const stageWindow = [1.16, 26.48];
const markerTimes = [28.1, 75];

const xRange = [0, 80];
const yRange = [-150, 250];
const xMajorStep = 10;
const xMinorStep = 2;
const yMajorStep = 50;
const yMinorStep = 10;

const textLabels = [
  { text: "stage 3", x: 2.25, y: 200, font: 'bold 35px "DejaVu Sans"', color: "#000000" },
  { text: "fore-front", x: 1.76, y: 126, font: '63px "Liberation Serif"', color: "rgb(0,204,150)" },
  { text: "max. length", x: 65.7, y: 247, font: '63px "Liberation Serif"', color: "rgb(0,204,150)" },
  { text: "back-front", x: 68.1, y: 77.8, font: '63px "Liberation Serif"', color: "#ff0000" },
];

const toXY = (arr: [number, number][]) => arr.map(([x, y]) => ({ x, y }));
const SANS = '"Liberation Sans", Arial, Helvetica, sans-serif';

const backgroundPlugin = {
  id: "stageBackground",
  beforeDatasetsDraw(chart: any) {
    const { ctx, chartArea, scales } = chart;
    const xs = scales.x;
    const x0 = xs.getPixelForValue(stageWindow[0]);
    const x1 = xs.getPixelForValue(stageWindow[1]);
    ctx.save();
    ctx.fillStyle = "#c8c8c8";
    ctx.fillRect(x0, chartArea.top, x1 - x0, chartArea.bottom - chartArea.top);
    ctx.strokeStyle = "#808080";
    ctx.lineWidth = 5;
    for (const px of [x0, x1]) {
      ctx.beginPath();
      ctx.moveTo(px, chartArea.top);
      ctx.lineTo(px, chartArea.bottom);
      ctx.stroke();
    }
    ctx.strokeStyle = "#ff8080";
    ctx.lineWidth = 6;
    for (const t of markerTimes) {
      const px = xs.getPixelForValue(t);
      ctx.beginPath();
      ctx.moveTo(px, chartArea.top);
      ctx.lineTo(px, chartArea.bottom);
      ctx.stroke();
    }
    ctx.restore();
  },
};

const overlayPlugin = {
  id: "overlay",
  afterDraw(chart: any) {
    const { ctx, chartArea, scales } = chart;
    const xs = scales.x;
    const ys = scales.y;
    ctx.save();
    ctx.strokeStyle = "#000";
    ctx.lineWidth = 2;
    for (let v = xRange[0]; v <= xRange[1]; v += xMinorStep) {
      if (v % xMajorStep === 0) continue;
      const px = Math.round(xs.getPixelForValue(v));
      ctx.beginPath();
      ctx.moveTo(px, chartArea.bottom);
      ctx.lineTo(px, chartArea.bottom + 8);
      ctx.stroke();
    }
    for (let v = yRange[0]; v <= yRange[1]; v += yMinorStep) {
      if (v % yMajorStep === 0) continue;
      const py = Math.round(ys.getPixelForValue(v));
      ctx.beginPath();
      ctx.moveTo(chartArea.left - 8, py);
      ctx.lineTo(chartArea.left, py);
      ctx.stroke();
    }
    ctx.textAlign = "left";
    ctx.textBaseline = "alphabetic";
    for (const l of textLabels) {
      ctx.font = l.font;
      ctx.fillStyle = l.color;
      ctx.fillText(l.text, xs.getPixelForValue(l.x), ys.getPixelForValue(l.y));
    }
    ctx.restore();
  },
};

export default function App() {
  const canvasRef = useRef<HTMLCanvasElement | null>(null);

  useEffect(() => {
    document.body.style.margin = "0";
    const canvas = canvasRef.current;
    if (!canvas) return;
    const lineBase = {
      type: "line" as const,
      pointRadius: 0,
      fill: false,
      cubicInterpolationMode: "monotone" as const,
      borderCapStyle: "butt" as const,
    };
    const chart = new Chart(canvas, {
      type: "scatter",
      data: {
        datasets: [
          {
            type: "scatter",
            label: "tracer",
            data: toXY([...stagePoints, ...stageDensePoints, ...risePoints, ...riseDensePoints, ...plateauPoints, ...plateauDensePoints]),
            pointRadius: 4.2,
            pointBorderWidth: 1,
            pointBorderColor: "#000000",
            pointBackgroundColor: "rgba(0,0,0,0)",
            order: 10,
          } as any,
          { ...lineBase, label: "fore-front upper", data: toXY(foreFrontUpper), borderColor: "#00ff00", borderWidth: 8, order: 3 } as any,
          { ...lineBase, label: "fore-front lower", data: toXY(foreFrontLower), borderColor: "#00ff00", borderWidth: 8, order: 3 } as any,
          { ...lineBase, label: "back-front", data: toXY(backFront), borderColor: "#ff0000", borderWidth: 8, order: 2 } as any,
          { ...lineBase, label: "max. length", data: toXY(maxLength), borderColor: "#ff8080", borderWidth: 8, order: 1, cubicInterpolationMode: "default", tension: 0 } as any,
        ],
      },
      options: {
        responsive: false,
        animation: false,
        devicePixelRatio: 1,
        layout: { padding: { left: 0, top: 49, right: 108, bottom: 0 } },
        plugins: { legend: { display: false }, tooltip: { enabled: false } },
        scales: {
          x: {
            type: "linear",
            min: xRange[0],
            max: xRange[1],
            afterFit: (s: any) => { s.height = 117; },
            grid: { display: true, drawOnChartArea: false, drawTicks: true, tickLength: 13, tickWidth: 2, tickColor: "#000" },
            border: { display: true, width: 3, color: "#000" },
            ticks: {
              stepSize: xMajorStep,
              color: "#000",
              padding: 14,
              maxRotation: 0,
              font: { family: SANS, size: 30 },
            },
            title: { display: true, text: "time (min)", color: "#000", font: { family: SANS, size: 36 }, padding: { top: 0, bottom: 0 } },
          },
          y: {
            type: "linear",
            min: yRange[0],
            max: yRange[1],
            afterFit: (s: any) => { s.width = 168; },
            grid: { display: true, drawOnChartArea: false, drawTicks: true, tickLength: 13, tickWidth: 2, tickColor: "#000" },
            border: { display: true, width: 3, color: "#000" },
            ticks: {
              stepSize: yMajorStep,
              color: "#000",
              padding: 18,
              font: { family: SANS, size: 30 },
              callback: (v: any) => (Number(v) < 0 ? "\u2212" + Math.abs(Number(v)) : String(v)),
            },
            title: { display: true, text: "distance to injection (m)", color: "#000", font: { family: SANS, size: 36 }, padding: { top: 13, bottom: 0 } },
          },
        },
      },
      plugins: [backgroundPlugin, overlayPlugin],
    });
    return () => chart.destroy();
  }, []);

  return (
    <div style={{ width: 1414, height: 696, position: "relative", background: "#fff" }}>
      <canvas ref={canvasRef} width={1414} height={696} style={{ display: "block" }} />
    </div>
  );
}
